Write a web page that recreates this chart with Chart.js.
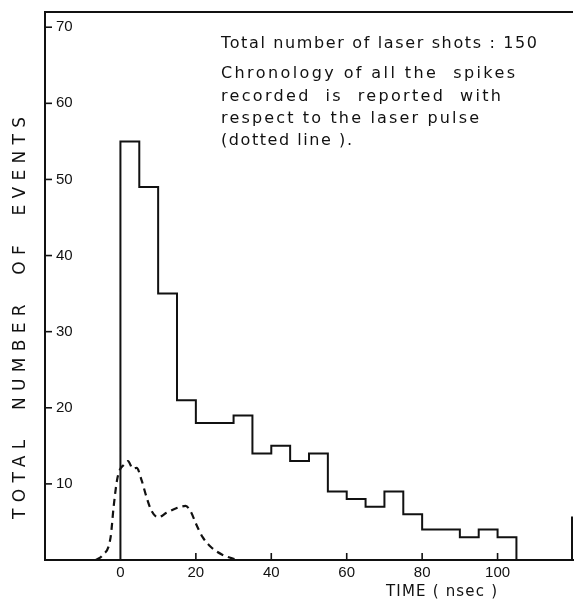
<!DOCTYPE html>
<html>
<head>
<meta charset="utf-8">
<script src="https://cdn.jsdelivr.net/npm/chart.js@4/dist/chart.umd.min.js"></script>
<style>
  html,body{margin:0;padding:0;background:#fff;}
  #wrap{width:574px;height:600px;position:relative;}
</style>
</head>
<body>
<div id="wrap"><canvas id="c" width="574" height="600"></canvas></div>
<script>
// histogram: bin edges (nsec) and number of events per 5 ns bin
const binEdges = [0,5,10,15,20,25,30,35,40,45,50,55,60,65,70,75,80,85,90,95,100,105];
const eventCounts = [55,49,35,21,18,18,19,14,15,13,14,9,8,7,9,6,4,4,3,4,3];

// laser pulse shape (dotted line)
const pulseTime  = [-6.5,-4.8,-2.6,-1.8,-0.9,-0.2,0.9,2,3.3,4.3,5.6,6.9,8.2,10,12.2,14.8,17.3,18.7,20,21.8,24,27,30.9];
const pulseLevel = [0,0.6,3,7,10.5,11.8,12.5,13,12,12.1,10.5,8.3,6.5,5.6,6.2,6.8,7.1,6.3,4.8,3,1.7,0.7,0];

const xTicks = [0,20,40,60,80,100];
const yTicks = [10,20,30,40,50,60,70];

const noteLines = [
  "Total number of laser shots : 150",
  "Chronology of all the  spikes",
  "recorded  is  reported  with",
  "respect to the laser pulse",
  "(dotted line )."
];
const yTitle = "TOTAL  NUMBER  OF  EVENTS";
const xTitle = "TIME ( nsec )";

const INK = "#111";

function histPoints(){
  const pts = [{x:binEdges[0], y:0}];
  eventCounts.forEach((c,i)=>pts.push({x:binEdges[i], y:c}));
  pts.push({x:binEdges[binEdges.length-1], y:0});
  return pts;
}

// draw text stretched to a given width (letter spaced)
function fitText(ctx, txt, x, y, width){
  ctx.letterSpacing = "0px";
  const w = ctx.measureText(txt).width;
  const ls = (width - w) / Math.max(1, txt.length - 1);
  ctx.letterSpacing = ls + "px";
  ctx.fillText(txt, x, y);
  ctx.letterSpacing = "0px";
}

const framePlugin = {
  id: "frame",
  afterDraw(chart){
    const {ctx, chartArea:a, scales:{x, y}} = chart;
    ctx.save();
    ctx.strokeStyle = INK; ctx.lineWidth = 2;
    // top border
    ctx.beginPath(); ctx.moveTo(a.left, a.top); ctx.lineTo(a.right, a.top); ctx.stroke();
    // short right border near bottom
    ctx.beginPath(); ctx.moveTo(a.right - 1, y.getPixelForValue(5.7)); ctx.lineTo(a.right - 1, a.bottom); ctx.stroke();
    // inward tick marks
    ctx.lineWidth = 1.6;
    yTicks.forEach(v=>{
      const py = y.getPixelForValue(v);
      ctx.beginPath(); ctx.moveTo(a.left, py); ctx.lineTo(a.left + 7, py); ctx.stroke();
    });
    xTicks.forEach(v=>{
      if(v===0) return;
      const px = x.getPixelForValue(v);
      ctx.beginPath(); ctx.moveTo(px, a.bottom); ctx.lineTo(px, a.bottom - 7); ctx.stroke();
    });
    ctx.fillStyle = INK;
    ctx.textBaseline = "middle"; ctx.textAlign = "left";
    // note text
    ctx.font = "16px 'DejaVu Sans'";
    const noteY = [44, 74, 97, 119, 141];
    const noteW = [316, 294, 280, 258, 131];
    noteLines.forEach((t,i)=>fitText(ctx, t, 221, noteY[i], noteW[i]));
    // x title
    ctx.font = "15px 'DejaVu Sans'";
    fitText(ctx, xTitle, 386, 592, 111);
    // y title
    ctx.translate(21, 519);
    ctx.rotate(-Math.PI/2);
    ctx.font = "17px 'DejaVu Sans'";
    fitText(ctx, yTitle, 0, 0, 402);
    ctx.restore();
  }
};

new Chart(document.getElementById("c"), {
  type: "line",
  data: {
    datasets: [
      { data: histPoints(), stepped: true, borderColor: INK, borderWidth: 2, pointRadius: 0, fill: false },
      { data: pulseTime.map((t,i)=>({x:t, y:pulseLevel[i]})), borderColor: INK, borderWidth: 2.2,
        borderDash: [7,5], cubicInterpolationMode: "monotone", pointRadius: 0, fill: false }
    ]
  },
  options: {
    responsive: false, animation: false,
    layout: { padding: { left: 45, top: 12, right: 1, bottom: 18 } },
    plugins: { legend: { display: false }, tooltip: { enabled: false } },
    scales: {
      x: {
        type: "linear", min: -20, max: 120,
        grid: { display: false, drawTicks: false },
        border: { color: INK, width: 2 },
        ticks: { stepSize: 20, padding: 4, color: INK, maxRotation: 0, autoSkip: false,
          font: { family: "'Liberation Sans'", size: 15 },
          callback: v => xTicks.includes(v) ? v : "" },
        afterFit: s => { s.height = 22; s.paddingLeft = 0; s.paddingRight = 0; }
      },
      y: {
        min: 0, max: 72,
        grid: { display: false, drawTicks: false },
        border: { color: INK, width: 2 },
        ticks: { stepSize: 10, mirror: true, padding: 11, color: INK, autoSkip: false, includeBounds: false,
          font: { family: "'Liberation Sans'", size: 15 },
          callback: v => yTicks.includes(v) ? v : "" },
        afterFit: s => { s.width = 0; s.paddingTop = 0; s.paddingBottom = 0; }
      }
    }
  },
  plugins: [framePlugin]
});
</script>
</body>
</html>
